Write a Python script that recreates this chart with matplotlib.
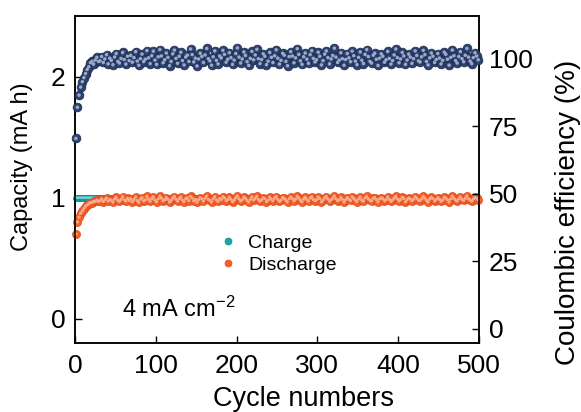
import numpy as np
import matplotlib
matplotlib.use("Agg")
import matplotlib.pyplot as plt
from matplotlib.lines import Line2D

plt.rcParams['font.family'] = ['Liberation Sans', 'DejaVu Sans']
plt.rcParams['mathtext.fontset'] = 'custom'
plt.rcParams['mathtext.rm'] = 'Liberation Sans'
plt.rcParams['mathtext.it'] = 'Liberation Sans:italic'
plt.rcParams['mathtext.bf'] = 'Liberation Sans:bold'

# ---------------- data (every 2nd cycle) ----------------
cycles = list(range(1, 501, 2))

coulombic_eff = [
    70.5, 82.0, 86.5, 89.5, 91.5, 93.0, 94.5, 96.0, 97.0, 98.5, 99.0, 98.0, 99.5, 100.5, 99.0,
    99.2, 100.8, 98.6, 99.9, 101.5, 98.1, 100.2, 99.4, 97.8, 100.6,
    101.9, 99.0, 98.4, 100.1, 102.3, 99.7, 98.0, 100.9, 99.3, 101.2,
    98.7, 100.4, 102.6, 99.1, 97.6, 100.0, 101.7, 98.9, 99.8, 103.0,
    100.3, 98.2, 101.1, 102.8, 99.5, 97.9, 100.7, 103.4, 101.0, 98.5,
    99.6, 102.1, 100.5, 97.4, 99.0, 101.8, 103.2, 100.1, 98.3, 100.9,
    102.4, 99.3, 97.7, 100.6, 101.3, 99.0, 103.6, 101.5, 98.8, 100.2,
    97.3, 99.9, 102.0, 100.8, 98.6, 101.4, 103.8, 100.0, 99.2, 97.6,
    100.7, 102.9, 99.4, 98.1, 101.0, 100.3, 103.1, 101.6, 98.7, 99.8,
    102.2, 100.4, 97.9, 99.5, 101.9, 104.0, 100.6, 98.4, 99.9, 102.5,
    101.2, 98.9, 97.5, 100.1, 102.7, 99.6, 101.4, 103.5, 100.0, 98.2,
    99.7, 101.8, 100.9, 97.8, 99.1, 102.3, 100.5, 98.6, 101.1, 103.3,
    100.2, 98.0, 99.4, 102.0, 101.3, 99.0, 97.4, 100.8, 102.6, 101.0,
    98.5, 100.3, 103.7, 101.6, 99.2, 97.9, 100.7, 102.1, 99.8, 98.3,
    101.5, 103.0, 100.1, 98.8, 99.6, 102.4, 100.9, 97.7, 99.3, 101.7,
    102.9, 100.4, 98.1, 99.9, 101.2, 103.9, 100.6, 98.6, 99.5, 102.2,
    100.0, 97.6, 99.7, 101.9, 100.3, 98.9, 102.8, 101.1, 99.1, 97.8,
    100.5, 102.5, 99.4, 98.2, 101.6, 103.4, 100.8, 99.0, 98.4, 101.3,
    102.0, 99.8, 97.5, 100.2, 101.8, 100.9, 98.7, 99.6, 102.7, 100.1,
    98.0, 99.3, 101.4, 103.6, 100.4, 98.5, 99.9, 102.3, 101.0, 97.9,
    99.5, 101.7, 100.6, 98.3, 100.0, 102.9, 101.2, 99.2, 98.8, 100.7,
    103.1, 101.5, 99.0, 97.7, 100.3, 102.1, 100.9, 98.6, 99.7, 101.9,
    100.2, 98.1, 99.4, 102.4, 101.6, 99.8, 97.6, 100.5, 103.2, 101.1,
    99.3, 98.4, 100.8, 102.6, 100.0, 98.9, 101.3, 103.8, 100.6, 99.1,
    98.2, 100.4, 102.2, 101.0, 99.6,
]

discharge_cap = [
    0.70, 0.80, 0.84, 0.87, 0.89, 0.91, 0.93, 0.94, 0.95, 0.96, 0.96, 0.97, 0.97, 0.98, 0.97,
    0.975, 0.990, 0.968, 0.982, 0.996, 0.971, 0.985, 0.978, 0.964, 0.988,
    1.002, 0.979, 0.969, 0.986, 1.008, 0.983, 0.972, 0.994, 0.977, 0.991,
    0.966, 0.984, 1.005, 0.976, 0.962, 0.987, 0.999, 0.973, 0.981, 1.010,
    0.988, 0.970, 0.993, 1.006, 0.980, 0.965, 0.989, 1.012, 0.995, 0.974,
    0.983, 1.001, 0.986, 0.963, 0.978, 0.997, 1.009, 0.987, 0.971, 0.992,
    1.004, 0.980, 0.967, 0.990, 0.998, 0.976, 1.011, 0.996, 0.973, 0.985,
    0.962, 0.982, 1.000, 0.991, 0.972, 0.995, 1.013, 0.985, 0.978, 0.964,
    0.989, 1.007, 0.981, 0.969, 0.993, 0.984, 1.008, 0.998, 0.975, 0.982,
    1.003, 0.987, 0.966, 0.980, 0.999, 1.014, 0.990, 0.972, 0.983, 1.005,
    0.995, 0.977, 0.963, 0.986, 1.007, 0.981, 0.994, 1.011, 0.985, 0.970,
    0.982, 0.999, 0.991, 0.967, 0.979, 1.004, 0.988, 0.974, 0.996, 1.009,
    0.986, 0.969, 0.980, 1.001, 0.994, 0.978, 0.964, 0.991, 1.006, 0.993,
    0.973, 0.987, 1.012, 0.997, 0.979, 0.966, 0.990, 1.003, 0.983, 0.971,
    0.996, 1.008, 0.985, 0.976, 0.982, 1.005, 0.992, 0.965, 0.980, 0.998,
    1.009, 0.988, 0.970, 0.984, 0.995, 1.013, 0.990, 0.974, 0.981, 1.002,
    0.986, 0.963, 0.983, 1.000, 0.987, 0.977, 1.007, 0.994, 0.979, 0.967,
    0.989, 1.004, 0.981, 0.971, 0.997, 1.010, 0.991, 0.978, 0.973, 0.995,
    1.001, 0.984, 0.964, 0.988, 0.999, 0.992, 0.975, 0.983, 1.006, 0.987,
    0.969, 0.980, 0.996, 1.011, 0.989, 0.972, 0.985, 1.003, 0.994, 0.966,
    0.982, 0.998, 0.990, 0.974, 0.986, 1.008, 0.995, 0.979, 0.976, 0.991,
    1.010, 0.997, 0.978, 0.965, 0.988, 1.002, 0.993, 0.973, 0.984, 1.000,
    0.987, 0.970, 0.981, 1.004, 0.996, 0.983, 0.963, 0.989, 1.012, 0.994,
    0.980, 0.972, 0.991, 1.006, 0.985, 0.977, 0.995, 1.014, 0.990, 0.981,
    0.971, 0.988, 1.003, 0.996, 0.984,
]

charge_cap = [1.0] * len(cycles)

x_ticks = [0, 100, 200, 300, 400, 500]
cap_ticks = [0, 1, 2]
ce_ticks = [0, 25, 50, 75, 100]

# ---------------- styling ----------------
navy, navy_edge, navy_hi = '#2D4270', '#1C2B4D', '#9AAAC8'
orange, orange_edge, orange_hi = '#F4602A', '#DE4D1A', '#FBA98A'
teal, teal_edge, teal_hi = '#1AA6AA', '#12888C', '#7ED3D5'

fig = plt.figure(figsize=(5.81, 4.12), dpi=100)
ax = fig.add_axes([75/581, 69/412, 404/581, 327/412])
ax2 = ax.twinx()

def balls(a, x, y, face, edge, hi, s, z):
    a.scatter(x, y, s=s, c=face, edgecolors=edge, linewidths=0.5, zorder=z, clip_on=False)
    a.scatter(x, y, s=s*0.16, c=hi, edgecolors='none', zorder=z+0.1, clip_on=False)

balls(ax, cycles, charge_cap, teal, teal_edge, teal_hi, 20, 3)
balls(ax, cycles, discharge_cap, orange, orange_edge, orange_hi, 34, 4)
balls(ax2, cycles, coulombic_eff, navy, navy_edge, navy_hi, 40, 3)

ax.set_xlim(0, 500)
ax.set_ylim(-0.2, 2.5)
ax2.set_ylim(-5.2, 115.8)

ax.set_xticks(x_ticks)
ax.set_yticks(cap_ticks)
ax2.set_yticks(ce_ticks)

ax.tick_params(axis='both', direction='in', length=5, width=1, labelsize=19, pad=7)
ax.tick_params(axis='x', pad=8)
ax.tick_params(top=False, right=False)
ax2.tick_params(axis='y', direction='in', length=5, width=1, labelsize=19, pad=7)

for a in (ax, ax2):
    for sp in a.spines.values():
        sp.set_linewidth(1.1)

ax.set_xlabel('Cycle numbers', fontsize=19.5)
ax.xaxis.set_label_coords(0.565, -0.133)
ax.set_ylabel('Capacity (mA h)', fontsize=17)
ax.yaxis.set_label_coords(-0.104, 0.54)
ax2.set_ylabel('Coulombic efficiency (%)', fontsize=20)
ax2.yaxis.set_label_coords(1.187, 0.40)

ax.text((122 - 75)/404, (343 - 317)/327, '4 mA cm$^{-2}$', transform=ax.transAxes,
        fontsize=17, va='baseline', ha='left')

handles = [
    Line2D([], [], ls='none', marker='o', markersize=5, markerfacecolor=teal, markeredgecolor=teal_edge, markeredgewidth=0.5),
    Line2D([], [], ls='none', marker='o', markersize=5, markerfacecolor=orange, markeredgecolor=orange_edge, markeredgewidth=0.5),
]
leg = ax.legend(handles, ['Charge', 'Discharge'], loc='center left',
                bbox_to_anchor=((218 - 75)/404, (343 - 254)/327), frameon=False,
                fontsize=14, handlelength=1.0, handletextpad=0.55, labelspacing=0.25,
                borderpad=0, borderaxespad=0)
leg.set_zorder(10)

fig.savefig('out.png', dpi=100)
